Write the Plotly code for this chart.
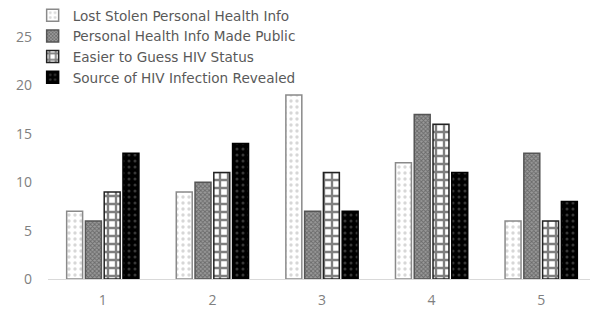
import plotly.graph_objects as go

categories = ["1", "2", "3", "4", "5"]
series_names = [
    "Lost Stolen Personal Health Info",
    "Personal Health Info Made Public",
    "Easier to Guess HIV Status",
    "Source of HIV Infection Revealed",
]
lost_stolen = [7, 9, 19, 12, 6]
made_public = [6, 10, 7, 17, 13]
easier_guess = [9, 11, 11, 16, 6]
source_revealed = [13, 14, 7, 11, 8]
y_ticks = [0, 5, 10, 15, 20, 25]

values = [lost_stolen, made_public, easier_guess, source_revealed]
styles = [
    dict(bg="white", fg="#b0b0b0", shape=".", size=6, sol=0.25, line="#8a8a8a"),
    dict(bg="#9a9a9a", fg="#3a3a3a", shape="x", size=3, sol=0.5, line="#555555"),
    dict(bg="white", fg="black", shape="+", size=8, sol=0.5, line="#222222"),
    dict(bg="black", fg="#707070", shape=".", size=6, sol=0.2, line="black"),
]

fig = go.Figure()
for name, vals, s in zip(series_names, values, styles):
    fig.add_trace(go.Bar(
        x=categories, y=vals, name=name,
        marker=dict(
            color=s["bg"],
            line=dict(color=s["line"], width=1.5),
            pattern=dict(shape=s["shape"], fgcolor=s["fg"], bgcolor=s["bg"],
                         size=s["size"], solidity=s["sol"], fillmode="overlay"),
        ),
    ))

fig.update_layout(
    width=598, height=309,
    margin=dict(l=40, r=10, t=0, b=38, autoexpand=False),
    paper_bgcolor="white", plot_bgcolor="white",
    barmode="group", bargap=0.315, bargroupgap=0.15,
    font=dict(family="Open Sans, sans-serif", size=13, color="#595959"),
    showlegend=True,
    legend=dict(x=-0.028, y=1.03, xanchor="left", yanchor="top",
                bgcolor="rgba(255,255,255,0)",
                font=dict(family="DejaVu Sans, sans-serif", size=13.6, color="#595959"),
                itemwidth=30, tracegroupgap=0),
    xaxis=dict(type="category", showgrid=False, showline=True, linecolor="#d9d9d9",
               linewidth=1, ticks="", ticklabelstandoff=8,
               tickfont=dict(size=14, color="#808080")),
    yaxis=dict(range=[0, 28], tickvals=y_ticks, showgrid=False, zeroline=False,
               showline=False, ticks="", ticklabelstandoff=15,
               tickfont=dict(size=14, color="#808080")),
)

fig.write_html("out.html")
